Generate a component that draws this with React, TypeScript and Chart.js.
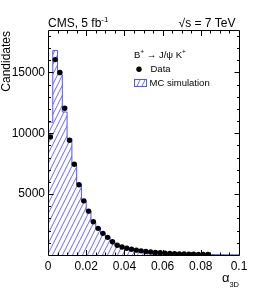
import React, { useEffect, useRef } from 'react';
import { Chart, registerables } from 'chart.js';

Chart.register(...registerables);

// ---- data ----
const BIN_WIDTH = 0.0025;
const X_MIN = 0;
const X_MAX = 0.1;
const Y_MAX = 18400;

const dataCounts = [
  9700, 16050, 15000, 12050, 9430, 7460, 5770, 4450, 3600, 2730,
  2190, 1780, 1450, 1090, 800, 660, 550, 470, 400, 340,
  290, 250, 210, 180, 150, 130, 110, 95, 80, 70,
  60, 52, 45, 40,
];

const mcCounts = [
  10900, 16800, 14800, 11750, 9560, 7400, 5800, 4450, 3600, 2700,
  2200, 1750, 1450, 1100, 800, 660, 545, 470, 400, 340,
  290, 250, 210, 180, 150, 130, 110, 95, 80, 70,
  60, 52, 45, 40, 35, 30, 25, 20, 18, 15,
];

const xTickValues = [0, 0.02, 0.04, 0.06, 0.08, 0.1];
const xTickLabels = ['0', '0.02', '0.04', '0.06', '0.08', '0.1'];
const yTickValues = [5000, 10000, 15000];
const yTickLabels = ['5000', '10000', '15000'];

const FONT = '"Liberation Sans", Arial, Helvetica, sans-serif';
const HIST_LINE = '#5555ff';
const HATCH = '#6a6aff';

type Part = { t: string; size: number; dy?: number };

function drawRich(ctx: CanvasRenderingContext2D, parts: Part[], x: number, y: number, align: 'left' | 'right') {
  let total = 0;
  for (const p of parts) {
    ctx.font = `${p.size}px ${FONT}`;
    total += ctx.measureText(p.t).width;
  }
  let cx = align === 'left' ? x : x - total;
  ctx.textAlign = 'left';
  ctx.textBaseline = 'alphabetic';
  for (const p of parts) {
    ctx.font = `${p.size}px ${FONT}`;
    ctx.fillText(p.t, cx, y + (p.dy || 0));
    cx += ctx.measureText(p.t).width;
  }
}

function makeHatch(): CanvasPattern | string {
  const c = document.createElement('canvas');
  c.width = 5;
  c.height = 10;
  const g = c.getContext('2d');
  if (!g) return HATCH;
  g.strokeStyle = HATCH;
  g.lineWidth = 1;
  g.beginPath();
  for (const off of [0, 10, 20]) {
    g.moveTo(-1, off + 2);
    g.lineTo(6, off - 12);
  }
  g.stroke();
  const p = g.createPattern(c, 'repeat');
  return p || HATCH;
}

export default function App() {
  const ref = useRef<HTMLCanvasElement | null>(null);

  useEffect(() => {
    if (!ref.current) return;
    const hatch = makeHatch();

    const histPoints = mcCounts.map((v, i) => ({ x: i * BIN_WIDTH, y: v }));
    histPoints.push({ x: mcCounts.length * BIN_WIDTH, y: mcCounts[mcCounts.length - 1] });
    const dataPoints = dataCounts.map((v, i) => ({ x: (i + 0.5) * BIN_WIDTH, y: v }));

    const decorPlugin = {
      id: 'decor',
      afterDraw(chart: any) {
        const { ctx, chartArea: a, scales } = chart;
        const xs = scales.x;
        const ys = scales.y;
        const L = Math.floor(a.left) + 0.5;
        const R = Math.floor(a.right) + 0.5;
        const T = Math.floor(a.top) - 0.5;
        const B = Math.floor(a.bottom) + 0.5;
        ctx.save();
        ctx.strokeStyle = '#000';
        ctx.lineWidth = 1;
        ctx.beginPath();
        ctx.rect(L, T, R - L, B - T);
        // y ticks
        for (let k = 1; k * 1000 < Y_MAX; k++) {
          const v = k * 1000;
          const py = Math.round(ys.getPixelForValue(v)) + 0.5;
          const len = k % 5 === 0 ? 5 : 2.5;
          ctx.moveTo(L, py);
          ctx.lineTo(L + len, py);
          ctx.moveTo(R, py);
          ctx.lineTo(R - len, py);
        }
        // x ticks
        for (let k = 1; k < 20; k++) {
          const v = k * 0.005;
          const px = Math.round(xs.getPixelForValue(v)) + 0.5;
          const len = k % 4 === 0 ? 5.5 : 3;
          ctx.moveTo(px, B);
          ctx.lineTo(px, B - len);
          ctx.moveTo(px, T);
          ctx.lineTo(px, T + len);
        }
        ctx.stroke();

        ctx.fillStyle = '#000';
        // Top labels
        drawRich(ctx, [
          { t: 'CMS, 5 fb', size: 12 },
          { t: '-1', size: 8, dy: -5 },
        ], a.left, 27, 'left');
        drawRich(ctx, [{ t: '\u221As = 7 TeV', size: 12 }], a.right - 3.5, 27, 'right');

        // Y title
        ctx.save();
        ctx.translate(10, a.top);
        ctx.rotate(-Math.PI / 2);
        drawRich(ctx, [{ t: 'Candidates', size: 12 }], 0, 0, 'right');
        ctx.restore();

        // X title
        drawRich(ctx, [
          { t: '\u03B1', size: 13 },
          { t: '3D', size: 7.5, dy: 4.5 },
        ], a.right, 282, 'right');

        // Legend
        drawRich(ctx, [
          { t: 'B', size: 9.5 },
          { t: '+', size: 6.5, dy: -3.5 },
          { t: ' \u2192 J/\u03C8 K', size: 9.5 },
          { t: '+', size: 6.5, dy: -3.5 },
        ], 134, 57.5, 'left');

        ctx.beginPath();
        ctx.arc(139, 69.3, 2.7, 0, Math.PI * 2);
        ctx.fill();
        drawRich(ctx, [{ t: 'Data', size: 9.5 }], 150.5, 72, 'left');

        ctx.fillStyle = hatch as any;
        ctx.fillRect(134.5, 79.5, 12, 7);
        ctx.strokeStyle = HIST_LINE;
        ctx.strokeRect(134.5, 79.5, 12, 7);
        ctx.fillStyle = '#000';
        drawRich(ctx, [{ t: 'MC simulation', size: 9.5 }], 149.5, 85.5, 'left');
        ctx.restore();
      },
    };

    const chart = new Chart(ref.current, {
      type: 'line',
      data: {
        datasets: [
          {
            label: 'Data',
            data: dataPoints,
            showLine: false,
            pointRadius: 2.7,
            pointHoverRadius: 2.7,
            pointBackgroundColor: '#000',
            pointBorderWidth: 0,
            borderColor: '#000',
            order: 0,
          },
          {
            label: 'MC simulation',
            data: histPoints,
            stepped: 'before',
            pointRadius: 0,
            borderColor: HIST_LINE,
            borderWidth: 1,
            backgroundColor: hatch as any,
            fill: 'origin',
            order: 1,
          },
        ],
      },
      options: {
        responsive: false,
        devicePixelRatio: 1,
        animation: false,
        events: [],
        layout: { padding: { top: 31, right: 27, left: 0, bottom: 0 } },
        plugins: {
          legend: { display: false },
          tooltip: { enabled: false },
          title: { display: false },
        },
        scales: {
          x: {
            type: 'linear',
            min: X_MIN,
            max: X_MAX,
            grid: { display: false, drawTicks: false, tickLength: 0 },
            border: { display: false },
            afterBuildTicks: (scale: any) => {
              scale.ticks = xTickValues.map((v) => ({ value: v }));
            },
            afterFit: (scale: any) => {
              scale.height = 45;
            },
            ticks: {
              padding: 4,
              color: '#000',
              font: { family: FONT, size: 12 },
              maxRotation: 0,
              autoSkip: false,
              callback: (_v: any, i: number) => xTickLabels[i],
            },
          },
          y: {
            type: 'linear',
            min: 0,
            max: Y_MAX,
            grid: { display: false, drawTicks: false, tickLength: 0 },
            border: { display: false },
            afterBuildTicks: (scale: any) => {
              scale.ticks = yTickValues.map((v) => ({ value: v }));
            },
            afterFit: (scale: any) => {
              scale.width = 48;
            },
            ticks: {
              padding: 3,
              color: '#000',
              font: { family: FONT, size: 12 },
              autoSkip: false,
              callback: (_v: any, i: number) => yTickLabels[i],
            },
          },
        },
      },
      plugins: [decorPlugin],
    } as any);

    return () => chart.destroy();
  }, []);

  return (
    <div style={{ position: 'absolute', left: 0, top: 0, width: 266, height: 300, background: '#fff' }}>
      <canvas ref={ref} width={266} height={300} style={{ display: 'block' }} />
    </div>
  );
}
